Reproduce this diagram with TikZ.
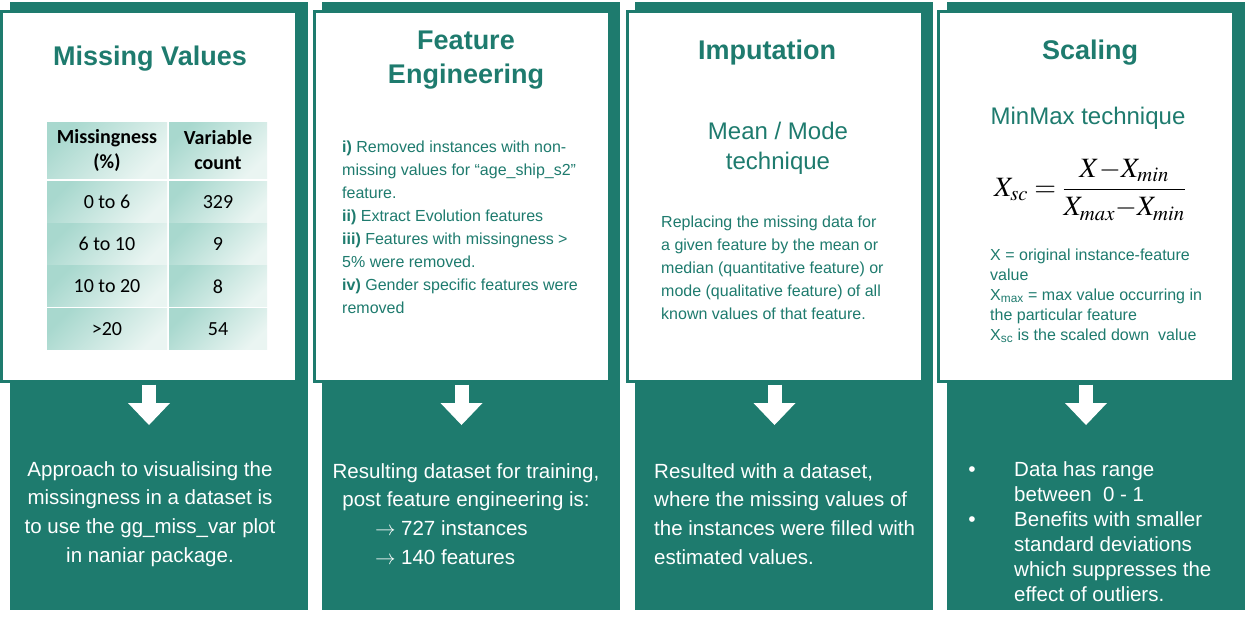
\documentclass[tikz,border=0pt]{standalone}
\usepackage{mathptmx}
\usepackage{fontspec}
\setmainfont{Liberation Sans}
\newfontfamily\tabfont{Carlito}
\usetikzlibrary{positioning,arrows.meta}
\definecolor{tealdark}{HTML}{1E7B6E}
\definecolor{cellhi}{HTML}{A8D8CE}
\definecolor{celllo}{HTML}{EAF5F2}

\begin{document}
\begin{tikzpicture}[x=1pt, y=-1pt,
  panel/.style={fill=tealdark, minimum width=298pt, minimum height=608pt, inner sep=0pt},
  card/.style={fill=white, draw=tealdark, line width=3pt, minimum width=295pt, minimum height=370pt, inner sep=0pt},
  flow/.style={draw=white, line width=14pt, -{Triangle[width=42pt,length=22pt,line width=0pt]}, shorten <=1.5pt},
  title/.style={text=tealdark, font=\fontsize{27}{34}\selectfont\bfseries, align=center},
  subtitle/.style={text=tealdark, font=\fontsize{24}{30}\selectfont, align=center},
  body/.style={text=tealdark, font=\fontsize{16}{23}\selectfont, align=left, anchor=west, inner sep=0pt},
  outtext/.style={text=white, font=\fontsize{20.5}{28.7}\selectfont, inner sep=0pt},
  cell/.style={top color=cellhi, bottom color=celllo, shading angle=45, minimum height=41pt,
    inner sep=0pt, font=\tabfont\fontsize{20}{24}\selectfont}
]
  \useasboundingbox (0,0) rectangle (1249,619);

  \foreach \n/\px/\cx in {mv/159/149, fe/471/461.5, im/784/774.5, sc/1096/1086} {
    \node[panel] (bg-\n) at (\px,306) {};
    \node[card] (card-\n) at (\cx,196.5) {};
    \coordinate (tip-\n) at (\cx,425);
    \draw[flow] (card-\n.south) -- (tip-\n);
  }

  % missing values
  \node[title] (mvtitle) at (150,59) {Missing Values};
  \node[cell, minimum width=120pt, minimum height=56pt, font=\tabfont\fontsize{20}{25}\selectfont\bfseries, align=center]
    (pct-0) at (107,150) {Missingness\\(\%)};
  \node[cell, minimum width=98pt, minimum height=56pt, font=\tabfont\fontsize{20}{25}\selectfont\bfseries, align=center]
    (cnt-0) at (218,150) {Variable\\count};
  \foreach \a/\b [count=\i] in {0 to 6/329, 6 to 10/9, 10 to 20/8, >20/54} {
    \node[cell, minimum width=120pt] (pct-\i) at (107,159.5+42.3*\i) {\a};
    \node[cell, minimum width=98pt] (cnt-\i) at (218,159.5+42.3*\i) {\b};
  }
  \node[outtext, align=center] (mvout) at (150,514)
    {Approach to visualising the\\missingness in a dataset is\\to use the gg\_miss\_var plot\\in naniar package.};

  % feature engineering
  \node[title] (fetitle) at (466,60) {Feature\\Engineering};
  \node[body] (febody) at (342,227)
    {\textbf{i)} Removed instances with non-\\missing values for “age\_ship\_s2”\\feature.\\
     \textbf{ii)} Extract Evolution features\\\textbf{iii)} Features with missingness >\\5\% were removed.\\
     \textbf{iv)} Gender specific features were\\removed};
  \node[outtext, align=center] (feout) at (466,514)
    {Resulting dataset for training,\\post feature engineering is:\\
     \makebox[182pt][l]{$\rightarrow$ 727 instances}\\\makebox[182pt][l]{$\rightarrow$ 140 features}};

  % imputation
  \node[title] (imtitle) at (767,53) {Imputation};
  \node[subtitle] (imsub) at (778,148) {Mean / Mode\\technique};
  \node[body] (imbody) at (661,268)
    {Replacing the missing data for\\a given feature by the mean or\\median (quantitative feature) or\\
     mode (qualitative feature) of all\\known values of that feature.};
  \node[outtext, align=left, anchor=west] (imout) at (654,514)
    {Resulted with a dataset,\\where the missing values of\\the instances were filled with\\estimated values.};

  % scaling
  \node[title] (sctitle) at (1090,53) {Scaling};
  \node[subtitle] (scsub) at (1088,118) {MinMax technique};
  \node[font=\fontsize{28}{34}\selectfont] (scformula) at (1090,190)
    {$\displaystyle X_{sc}=\frac{X{-}X_{min}}{X_{max}{-}X_{min}}$};
  \node[body, font=\fontsize{16}{20}\selectfont] (scbody) at (990,296)
    {X = original instance-feature\\value\\X\textsubscript{max} = max value occurring in\\
     the particular feature\\X\textsubscript{sc} is the scaled down\ \ value};
  \node[outtext, text=white, font=\fontsize{21}{24}\selectfont] (dot-1) at (972,472) {•};
  \node[outtext, text=white, font=\fontsize{21}{24}\selectfont] (dot-2) at (972,522) {•};
  \node[outtext, font=\fontsize{20.5}{25}\selectfont, align=left, anchor=west] (scout) at (1014,531.5)
    {Data has range\\between\ \ 0 - 1\\Benefits with smaller\\standard deviations\\which suppresses the\\effect of outliers.};
\end{tikzpicture}
\end{document}
